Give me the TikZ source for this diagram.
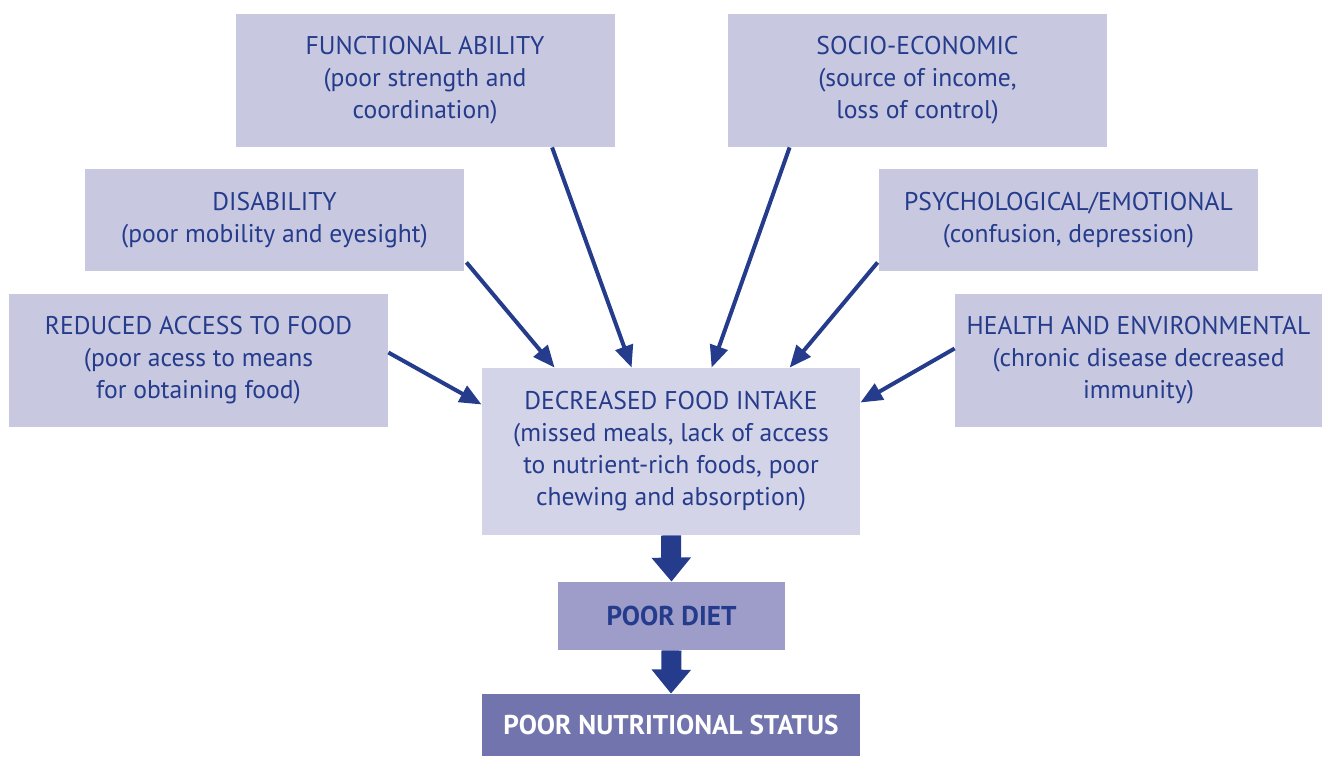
\documentclass[tikz,border=0pt]{standalone}
\usepackage{fontspec}
\setmainfont{PT Sans}
\usetikzlibrary{calc,arrows.meta}
\definecolor{boxc}{HTML}{C8C8E0}
\definecolor{boxd}{HTML}{D4D4E8}
\definecolor{dietc}{HTML}{9E9CC8}
\definecolor{statc}{HTML}{7274AE}
\definecolor{bluec}{HTML}{253C8C}
\tikzset{
  factor/.style={fill=boxc,text=bluec,align=center,inner sep=0pt,
    minimum width=189.5pt,font=\fontsize{12.8}{16}\selectfont},
  result/.style={factor,font=\fontsize{13.6}{16}\selectfont\bfseries},
  conn/.style={draw=bluec,line width=2pt,-{Triangle[length=11pt,width=9pt]}},
  bigconn/.style={draw=bluec,line width=10pt,-{Triangle[length=12pt,width=19pt]}}
}
\begin{document}
\begin{tikzpicture}[x=0.5pt,y=-0.5pt,line join=round]
  \useasboundingbox (0,0) rectangle (1322,756);
  %cac yeu to
  \node[factor,minimum height=66.5pt] (func) at (425,80.5) {FUNCTIONAL ABILITY\\(poor strength and\\coordination)};
  \node[factor,minimum height=66.5pt] (socio) at (917.5,80.5) {SOCIO-ECONOMIC\\(source of income,\\loss of control)};
  \node[factor,minimum height=51pt] (disab) at (274.5,220) {DISABILITY\\(poor mobility and eyesight)};
  \node[factor,minimum height=51pt] (psych) at (1068.5,220) {PSYCHOLOGICAL/EMOTIONAL\\(confusion, depression)};
  \node[factor,minimum height=66.5pt] (reduced) at (198.5,360.5) {REDUCED ACCESS TO FOOD\\(poor acess to means\\for obtaining food)};
  \node[factor,minimum height=66.5pt,minimum width=183.5pt] (health) at (1138.5,360.5) {HEALTH AND ENVIRONMENTAL\\(chronic disease decreased\\immunity)};
  %ket qua
  \node[factor,fill=boxd,minimum height=83.5pt,minimum width=189pt] (decr) at (671,451.5) {DECREASED FOOD INTAKE\\(missed meals, lack of access\\to nutrient-rich foods, poor\\chewing and absorption)};
  \node[result,fill=dietc,minimum height=34pt,minimum width=113.5pt] (diet) at (671.5,616) {POOR DIET};
  \node[result,fill=statc,text=white,minimum height=31pt,minimum width=189pt] (status) at (671,725) {POOR NUTRITIONAL STATUS};
  %cac mui ten
  \draw[conn] ($(reduced.east)+(0,-8)$) -- ($(decr.west)+(0,-47)$);
  \draw[conn] ($(disab.south east)+(2,-9)$) -- ($(decr.north west)+(73,0)$);
  \draw[conn] ($(func.south west)+(317,0)$) -- ($(decr.north west)+(150,0)$);
  \draw[conn] ($(socio.south west)+(62,0)$) -- ($(decr.north west)+(230,0)$);
  \draw[conn] ($(psych.south west)+(-1,-9)$) -- ($(decr.north west)+(308,0)$);
  \draw[conn] ($(health.west)+(0,-12)$) -- ($(decr.east)+(0,-49)$);
  \draw[bigconn] (decr.south) -- (diet.north);
  \draw[bigconn] (diet.south) -- (status.north);
\end{tikzpicture}
\end{document}
